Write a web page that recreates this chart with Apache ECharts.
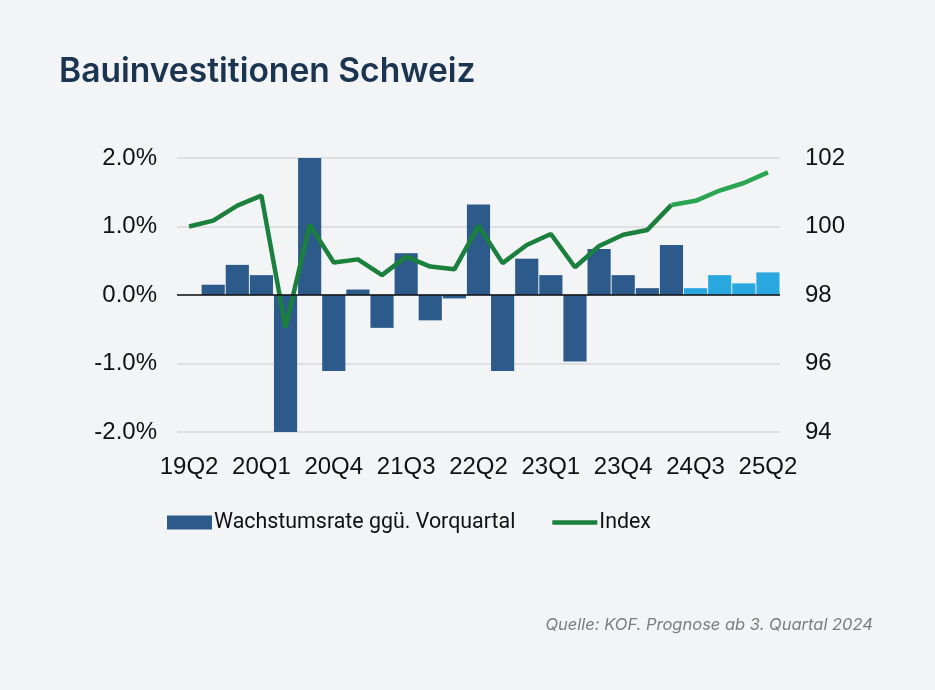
<!DOCTYPE html>
<html>
<head>
<meta charset="utf-8">
<script src="https://cdn.jsdelivr.net/npm/echarts@6/dist/echarts.min.js"></script>
<style>
  html, body { margin: 0; padding: 0; background: #f2f4f6; }
  #chart { width: 935px; height: 690px; }
</style>
</head>
<body>
<div id="chart"></div>
<script>
// Quartale 19Q2 .. 25Q2
const quarters = ['19Q2', '19Q3', '19Q4', '20Q1', '20Q2', '20Q3', '20Q4', '21Q1', '21Q2',
    '21Q3', '21Q4', '22Q1', '22Q2', '22Q3', '22Q4', '23Q1', '23Q2', '23Q3', '23Q4',
    '24Q1', '24Q2', '24Q3', '24Q4', '25Q1', '25Q2'];

// Wachstumsrate ggü. Vorquartal in %
const growth = [0, 0.15, 0.44, 0.29, -2.03, 2.0, -1.11, 0.08, -0.48, 0.61, -0.37, -0.05,
    1.32, -1.11, 0.53, 0.29, -0.97, 0.67, 0.29, 0.10, 0.73, 0.10, 0.29, 0.17, 0.33];

// Index
const indexValues = [100.0, 100.17, 100.61, 100.9, 97.05, 100.05, 98.95, 99.04, 98.58, 99.12,
    98.83, 98.75, 100.02, 98.93, 99.46, 99.78, 98.81, 99.43, 99.76, 99.9, 100.63, 100.75,
    101.05, 101.27, 101.58];

const leftTicks = [-2, -1, 0, 1, 2];
const rightTicks = [94, 96, 98, 100, 102];

// Prognose ab 3. Quartal 2024
const forecastFrom = quarters.indexOf('24Q3');

const barDark = '#2c5a8a';
const barLight = '#29a8df';
const lineDark = '#1b7f3e';
const lineLight = '#2aa552';

const labelFont = "'Liberation Sans', Arial, sans-serif";

let barData = growth.map(function (v, i) {
    return {
        value: v,
        itemStyle: { color: i >= forecastFrom ? barLight : barDark }
    };
});

let histLine = indexValues.map(function (v, i) { return i <= forecastFrom - 1 ? v : null; });
let progLine = indexValues.map(function (v, i) { return i >= forecastFrom - 1 ? v : null; });

const option = {
    backgroundColor: '#f2f4f6',
    animation: false,
    title: [
        {
            text: 'Bauinvestitionen Schweiz',
            left: 54,
            top: 50,
            textStyle: {
                fontFamily: 'Inter, sans-serif',
                fontWeight: 600,
                fontSize: 33.6,
                color: '#1b3550'
            }
        },
        {
            text: 'Quelle: KOF. Prognose ab 3. Quartal 2024',
            right: 57,
            top: 612,
            textStyle: {
                fontFamily: 'Inter, sans-serif',
                fontStyle: 'italic',
                fontWeight: 'normal',
                fontSize: 16.5,
                color: '#7a7d80'
            }
        }
    ],
    legend: {
        bottom: 152,
        left: 162,
        itemWidth: 45,
        itemHeight: 14,
        itemGap: 37,
        textStyle: {
            fontFamily: 'Roboto, sans-serif',
            fontSize: 21.4,
            color: '#111',
            padding: [0, 0, 0, -3]
        },
        data: [
            { name: 'Wachstumsrate ggü. Vorquartal', icon: 'rect' },
            { name: 'Index', icon: 'path://M0,0 M0,14 M0,4.8 L45,4.8 L45,9.2 L0,9.2 Z' }
        ]
    },
    grid: {
        left: 177,
        right: 155,
        top: 158,
        bottom: 258,
        containLabel: false
    },
    xAxis: {
        type: 'category',
        data: quarters,
        boundaryGap: true,
        axisLine: { show: false },
        axisTick: { show: false },
        axisLabel: {
            interval: 2,
            margin: 23,
            fontFamily: labelFont,
            fontSize: 24,
            color: '#111'
        }
    },
    yAxis: [
        {
            type: 'value',
            min: leftTicks[0],
            max: leftTicks[leftTicks.length - 1],
            interval: 1,
            axisLine: { show: false },
            axisTick: { show: false },
            axisLabel: {
                margin: 20,
                fontFamily: labelFont,
                fontSize: 24,
                color: '#111',
                formatter: function (v) { return v.toFixed(1) + '%'; }
            },
            splitLine: { lineStyle: { color: '#d6d8db', width: 1.5 } }
        },
        {
            type: 'value',
            min: rightTicks[0],
            max: rightTicks[rightTicks.length - 1],
            interval: 2,
            axisLine: { show: false },
            axisTick: { show: false },
            axisLabel: {
                margin: 25,
                fontFamily: labelFont,
                fontSize: 24,
                color: '#111'
            },
            splitLine: { show: false }
        }
    ],
    series: [
        {
            name: 'Wachstumsrate ggü. Vorquartal',
            type: 'bar',
            yAxisIndex: 0,
            barCategoryGap: '4%',
            itemStyle: { color: barDark },
            data: barData,
            markLine: {
                silent: true,
                symbol: 'none',
                label: { show: false },
                lineStyle: { color: '#111', width: 1.5, type: 'solid' },
                data: [{ yAxis: 0 }]
            },
            z: 2
        },
        {
            name: 'Index',
            type: 'line',
            yAxisIndex: 1,
            symbol: 'none',
            lineStyle: { color: lineDark, width: 4.5 },
            itemStyle: { color: lineDark },
            data: histLine,
            z: 3
        },
        {
            name: 'Index Prognose',
            type: 'line',
            yAxisIndex: 1,
            symbol: 'none',
            lineStyle: { color: lineLight, width: 4.5 },
            itemStyle: { color: lineLight },
            data: progLine,
            z: 3
        }
    ]
};

let chart = echarts.init(document.getElementById('chart'));
chart.setOption(option);
window.addEventListener('resize', function () {
    chart.resize();
});
</script>
</body>
</html>
